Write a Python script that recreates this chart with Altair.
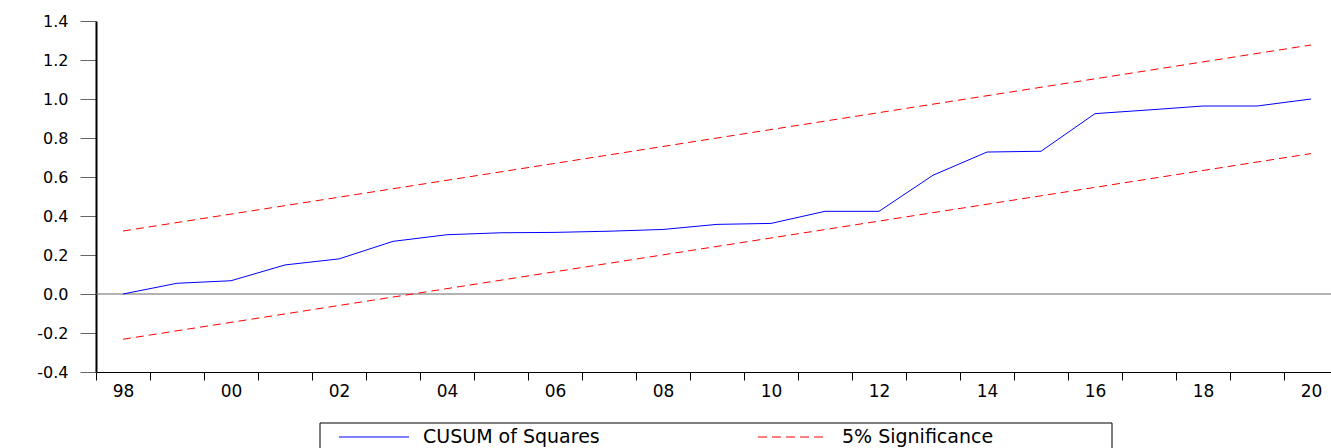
import altair as alt
import pandas as pd

# ---- data ----
years = list(range(1998, 2021))
cusum_sq = [0.000, 0.055, 0.068, 0.149, 0.180, 0.270, 0.304, 0.314, 0.316, 0.322,
            0.331, 0.357, 0.362, 0.424, 0.424, 0.609, 0.728, 0.732, 0.925, 0.944,
            0.964, 0.964, 1.000]
band_years = [1998, 2020]
upper_band = [0.323, 1.277]
lower_band = [-0.232, 0.720]
y_ticks = [-0.4, -0.2, 0.0, 0.2, 0.4, 0.6, 0.8, 1.0, 1.2, 1.4]
x_tick_bounds = [y - 0.5 for y in years]
legend_labels = ["CUSUM of Squares", "5% Significance"]

FONT = "DejaVu Sans"

cusum_df = pd.DataFrame({"year": years, "value": cusum_sq})
band_df = pd.DataFrame({
    "year": band_years + band_years,
    "value": upper_band + lower_band,
    "line": ["upper"] * len(band_years) + ["lower"] * len(band_years),
})

x_scale = alt.Scale(domain=[1997.5, 2020.37], nice=False, zero=False)
y_scale = alt.Scale(domain=[-0.4, 1.4], nice=False, zero=False)

x_axis = alt.Axis(
    values=x_tick_bounds,
    labelExpr="(datum.value + 0.5) % 2 == 0 ? substring(toString(datum.value + 0.5), 2, 4) : ''",
    labelOffset=27,
    labelOverlap=False,
    labelFlush=False,
    labelBound=False,
    tickSize=8,
    tickColor="black",
    domainColor="black",
    domainWidth=1,
    labelPadding=3,
    labelFont=FONT,
    labelFontSize=17,
    labelColor="black",
    grid=False,
    title=None,
)
y_axis = alt.Axis(
    values=y_ticks,
    labelExpr="(datum.value < -0.001 ? '-' : '') + format(abs(datum.value), '.1f')",
    tickSize=16,
    tickColor="#666666",
    domainColor="black",
    domainWidth=2,
    labelPadding=12,
    labelFont=FONT,
    labelFontSize=16,
    labelColor="black",
    grid=False,
    title=None,
)

zero_rule = alt.Chart(pd.DataFrame({"z": [0.0]})).mark_rule(
    color="#666666", strokeWidth=1
).encode(y=alt.Y("z:Q", scale=y_scale, axis=y_axis))

cusum_line = alt.Chart(cusum_df).mark_line(color="#0000ff", strokeWidth=1).encode(
    x=alt.X("year:Q", scale=x_scale, axis=x_axis),
    y=alt.Y("value:Q", scale=y_scale, axis=y_axis),
)

band_lines = alt.Chart(band_df).mark_line(
    color="#ff0000", strokeWidth=1, strokeDash=[8, 5]
).encode(
    x=alt.X("year:Q", scale=x_scale, axis=x_axis),
    y=alt.Y("value:Q", scale=y_scale, axis=y_axis),
    detail="line:N",
)

# ---- hand-built legend box below the axis ----
one = pd.DataFrame({"k": [0]})
legend_box = alt.Chart(one).mark_rect(
    fill="white", stroke="black", strokeWidth=1
).encode(x=alt.value(224), x2=alt.value(1016), y=alt.value(402), y2=alt.value(460))
legend_sym1 = alt.Chart(one).mark_rule(color="#0000ff", strokeWidth=1).encode(
    x=alt.value(243), x2=alt.value(313), y=alt.value(416)
)
legend_sym2 = alt.Chart(one).mark_rule(
    color="#ff0000", strokeWidth=1, strokeDash=[9, 5]
).encode(x=alt.value(662), x2=alt.value(731), y=alt.value(416))
legend_txt1 = alt.Chart(one).mark_text(
    text=legend_labels[0], align="left", baseline="middle",
    font=FONT, fontSize=19, color="black"
).encode(x=alt.value(327), y=alt.value(416))
legend_txt2 = alt.Chart(one).mark_text(
    text=legend_labels[1], align="left", baseline="middle",
    font=FONT, fontSize=19, color="black"
).encode(x=alt.value(746), y=alt.value(416))

chart = alt.layer(
    zero_rule, band_lines, cusum_line,
    legend_box, legend_sym1, legend_sym2, legend_txt1, legend_txt2,
).properties(
    width=1235,
    height=351,
    autosize=alt.AutoSizeParams(type="none"),
    padding={"left": 96, "top": 21, "right": 0, "bottom": 76},
    background="white",
).configure_view(stroke=None)

chart.save("out.html", embed_options={"renderer": "svg", "actions": False})
